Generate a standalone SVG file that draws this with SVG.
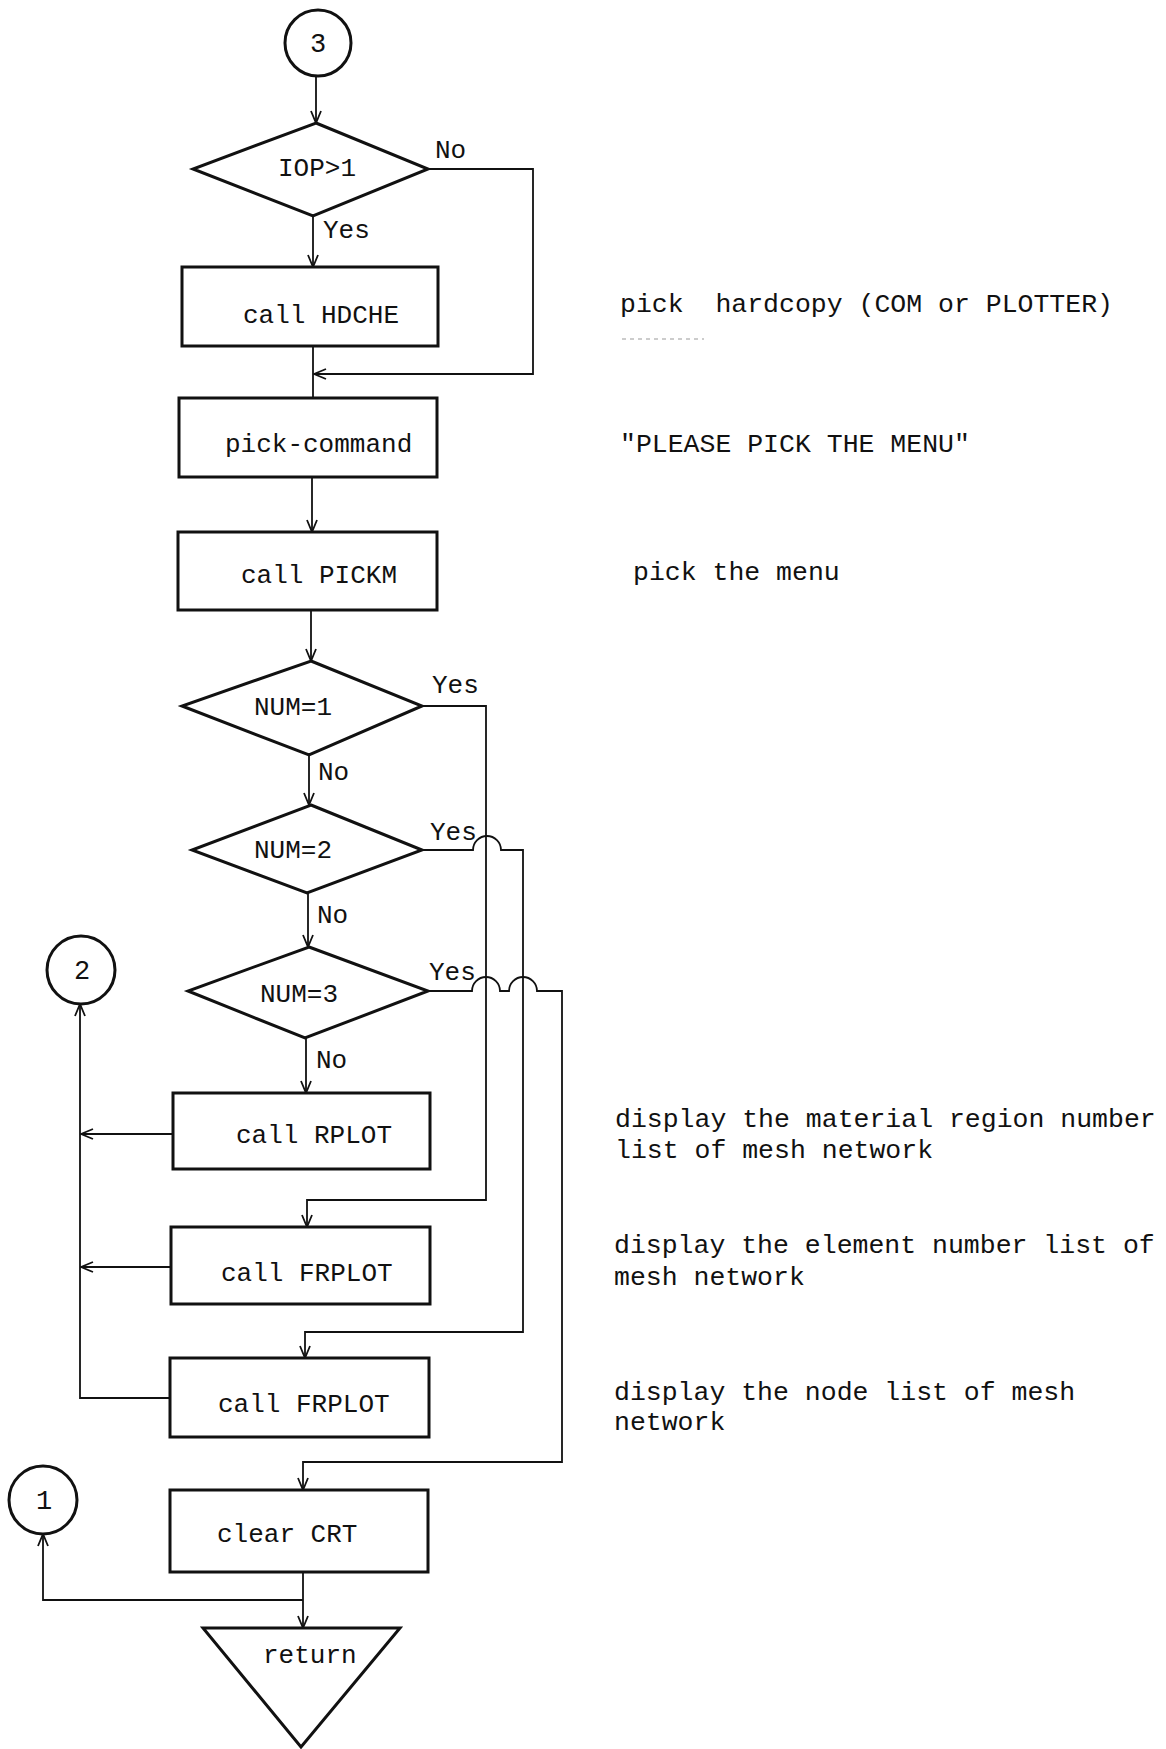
<svg xmlns="http://www.w3.org/2000/svg" width="1166" height="1749" viewBox="0 0 1166 1749">
  <style>
    .shape { fill: #fff; stroke: #111; stroke-width: 3; }
    .conn { fill: none; stroke: #111; stroke-width: 1.8; }
    .lbl { font-family: "Liberation Mono", "DejaVu Sans Mono", monospace; font-size: 26px; fill: #111; }
    .num { font-family: "Liberation Mono", "DejaVu Sans Mono", monospace; font-size: 27px; fill: #111; text-anchor: middle; }
    .note { font-family: "Liberation Mono", "DejaVu Sans Mono", monospace; font-size: 26.5px; fill: #111; }
  </style>
  <defs>
    <marker id="arr" viewBox="0 0 14 12" refX="13" refY="6" markerWidth="14" markerHeight="12" markerUnits="userSpaceOnUse" orient="auto">
      <path d="M1,1 L13,6 L1,11" fill="none" stroke="#111" stroke-width="1.8"/>
    </marker>
  </defs>
  <rect width="1166" height="1749" fill="#fff"/>

  <!-- connectors -->
  <g id="connectors">
    <line class="conn" x1="316" y1="76" x2="316" y2="123" marker-end="url(#arr)"/>
    <line class="conn" x1="313" y1="216" x2="313" y2="267" marker-end="url(#arr)"/>
    <line class="conn" x1="313" y1="346" x2="313" y2="398"/>
    <path class="conn" d="M428,169 H533 V374 H314" marker-end="url(#arr)"/>
    <line class="conn" x1="312" y1="477" x2="312" y2="532" marker-end="url(#arr)"/>
    <line class="conn" x1="311" y1="610" x2="311" y2="661" marker-end="url(#arr)"/>
    <line class="conn" x1="309" y1="755" x2="309" y2="805" marker-end="url(#arr)"/>
    <line class="conn" x1="308" y1="893" x2="308" y2="947" marker-end="url(#arr)"/>
    <line class="conn" x1="306" y1="1038" x2="306" y2="1093" marker-end="url(#arr)"/>
    <!-- NUM=1 yes branch -->
    <path class="conn" d="M422,706 H486 V1200 H307 V1227" marker-end="url(#arr)"/>
    <!-- NUM=2 yes branch, hopping over the first branch -->
    <path class="conn" d="M422,850 H473 A14,14 0 0 1 501,850 H523 V1332 H305 V1358" marker-end="url(#arr)"/>
    <!-- NUM=3 yes branch, hopping over both branches -->
    <path class="conn" d="M428,991 H472 A14,14 0 0 1 500,991 H509 A14,14 0 0 1 537,991 H562 V1462 H303 V1490" marker-end="url(#arr)"/>
    <!-- returns to connector 2 -->
    <line class="conn" x1="173" y1="1134" x2="81" y2="1134" marker-end="url(#arr)"/>
    <line class="conn" x1="171" y1="1267" x2="81" y2="1267" marker-end="url(#arr)"/>
    <path class="conn" d="M170,1398 H80 V1004" marker-end="url(#arr)"/>
    <!-- clear CRT to return and connector 1 -->
    <line class="conn" x1="303" y1="1572" x2="303" y2="1628" marker-end="url(#arr)"/>
    <path class="conn" d="M303,1600 H43 V1534" marker-end="url(#arr)"/>
  </g>

  <!-- branch labels -->
  <g id="branch-labels" class="lbl">
    <text x="435" y="158">No</text>
    <text x="323" y="238">Yes</text>
    <text x="432" y="693">Yes</text>
    <text x="318" y="780">No</text>
    <text x="430" y="840">Yes</text>
    <text x="317" y="923">No</text>
    <text x="429" y="980">Yes</text>
    <text x="316" y="1068">No</text>
  </g>

  <g id="conn3">
    <circle class="shape" cx="318" cy="43" r="33" stroke-width="2.5"/>
    <text class="num" x="318" y="52">3</text>
  </g>
  <g id="dec-iop">
    <polygon class="shape" points="316,123 428,169 313,216 193,169"/>
    <text class="lbl" x="278" y="176">IOP&gt;1</text>
  </g>
  <g id="hdche">
    <rect class="shape" x="182" y="267" width="256" height="79"/>
    <text class="lbl" x="243" y="323">call HDCHE</text>
  </g>
  <g id="pick-command">
    <rect class="shape" x="179" y="398" width="258" height="79"/>
    <text class="lbl" x="225" y="452">pick-command</text>
  </g>
  <g id="pickm">
    <rect class="shape" x="178" y="532" width="259" height="78"/>
    <text class="lbl" x="241" y="583">call PICKM</text>
  </g>
  <g id="dec-num1">
    <polygon class="shape" points="311,661 422,706 309,755 182,706"/>
    <text class="lbl" x="254" y="715">NUM=1</text>
  </g>
  <g id="dec-num2">
    <polygon class="shape" points="311,805 422,850 307,893 192,850"/>
    <text class="lbl" x="254" y="858">NUM=2</text>
  </g>
  <g id="dec-num3">
    <polygon class="shape" points="309,947 428,991 305,1038 188,991"/>
    <text class="lbl" x="260" y="1002">NUM=3</text>
  </g>
  <g id="rplot">
    <rect class="shape" x="173" y="1093" width="257" height="76"/>
    <text class="lbl" x="236" y="1143">call RPLOT</text>
  </g>
  <g id="frplot-1">
    <rect class="shape" x="171" y="1227" width="259" height="77"/>
    <text class="lbl" x="221" y="1281">call FRPLOT</text>
  </g>
  <g id="frplot-2">
    <rect class="shape" x="170" y="1358" width="259" height="79"/>
    <text class="lbl" x="218" y="1412">call FRPLOT</text>
  </g>
  <g id="clear-crt">
    <rect class="shape" x="170" y="1490" width="258" height="82"/>
    <text class="lbl" x="217" y="1542">clear CRT</text>
  </g>
  <g id="return">
    <polygon class="shape" points="203,1628 400,1628 301,1747"/>
    <text class="lbl" x="263" y="1663">return</text>
  </g>
  <g id="conn2">
    <circle class="shape" cx="81" cy="970" r="34" stroke-width="2.5"/>
    <text class="num" x="82" y="979">2</text>
  </g>
  <g id="conn1">
    <circle class="shape" cx="43" cy="1500" r="34" stroke-width="2.5"/>
    <text class="num" x="44" y="1509">1</text>
  </g>

  <!-- side notes -->
  <g id="notes" class="note">
    <text x="620" y="312" xml:space="preserve">pick  hardcopy (COM or PLOTTER)</text>
    <line x1="622" y1="339" x2="704" y2="339" stroke="#999" stroke-width="1" stroke-dasharray="4,4"/>
    <text x="620" y="452">"PLEASE PICK THE MENU"</text>
    <text x="633" y="580">pick the menu</text>
    <text x="615" y="1127">display the material region number</text>
    <text x="615" y="1158">list of mesh network</text>
    <text x="614" y="1253">display the element number list of</text>
    <text x="614" y="1285">mesh network</text>
    <text x="614" y="1400">display the node list of mesh</text>
    <text x="614" y="1430">network</text>
  </g>
</svg>
